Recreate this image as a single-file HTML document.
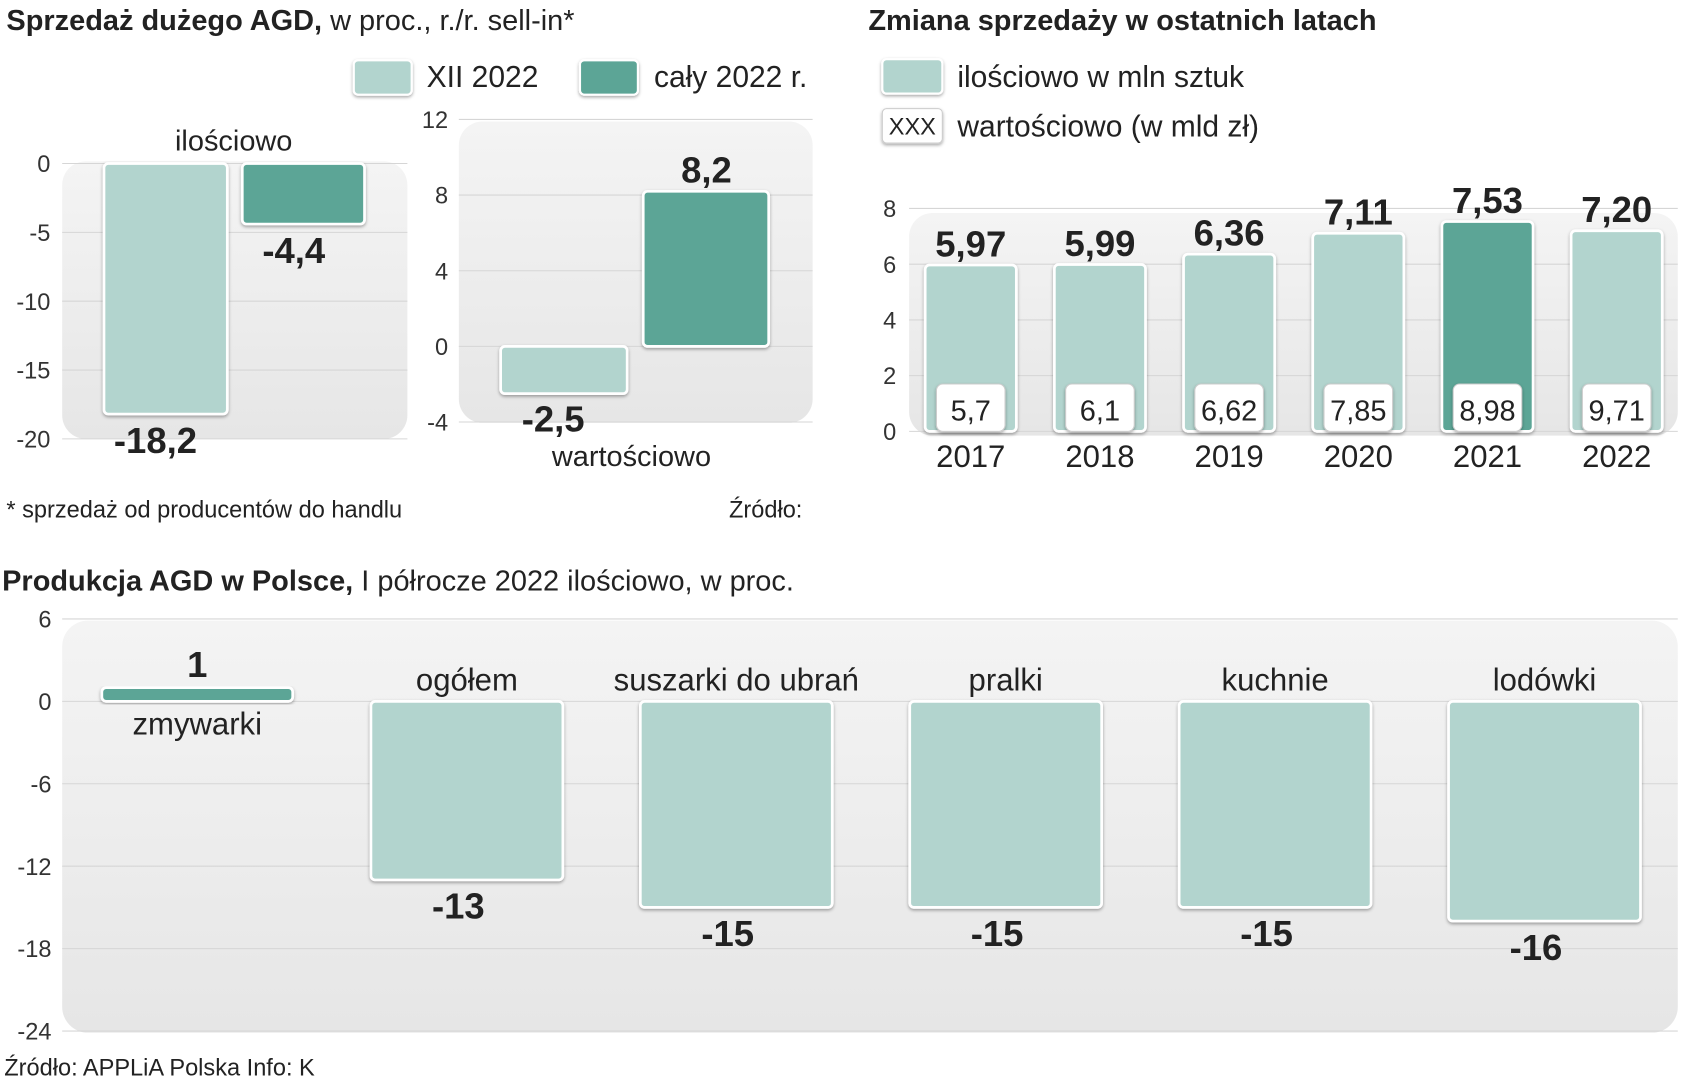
<!DOCTYPE html>
<html><head><meta charset="utf-8">
<style>
html,body{margin:0;padding:0;background:#fff;}
svg{display:block;font-family:"Liberation Sans Narrow","Liberation Sans",sans-serif;}
.t{fill:#222;}
.b{font-weight:bold;}
</style></head>
<body>
<svg id="root" width="1681" height="1080" viewBox="0 0 1568 1004" preserveAspectRatio="none" xmlns="http://www.w3.org/2000/svg">
<defs>
<linearGradient id="bg" x1="0" y1="0" x2="0" y2="1"><stop offset="0" stop-color="#f4f4f4"/><stop offset="1" stop-color="#e6e6e6"/></linearGradient>
<filter id="sh" x="-10%" y="-10%" width="120%" height="130%"><feDropShadow dx="0" dy="1.5" stdDeviation="1.5" flood-color="#000" flood-opacity="0.35"/></filter>
</defs>
<!-- titles -->
<text x="6" y="28" font-size="27" class="t"><tspan class="b">Sprzedaż dużego AGD,</tspan> w proc., r./r. sell-in*</text>
<text x="810" y="28" font-size="27" class="t b">Zmiana sprzedaży w ostatnich latach</text>
<text x="2" y="549" font-size="27" class="t"><tspan class="b">Produkcja AGD w Polsce,</tspan>  I półrocze 2022 ilościowo, w proc.</text>
<!-- legends -->
<g><rect x="330" y="56" width="54" height="32" rx="4" fill="#b2d4ce" stroke="#fff" stroke-width="2" filter="url(#sh)"/><text x="398" y="81" font-size="28" class="t">XII 2022</text></g>
<g><rect x="541" y="56" width="54" height="32" rx="4" fill="#5ba596" stroke="#fff" stroke-width="2" filter="url(#sh)"/><text x="610" y="81" font-size="28" class="t">cały 2022 r.</text></g>
<g><rect x="823" y="55" width="56" height="32" rx="4" fill="#b2d4ce" stroke="#fff" stroke-width="2" filter="url(#sh)"/><text x="893" y="81" font-size="28" class="t">ilościowo w mln sztuk</text></g>
<g><rect x="823" y="101" width="56" height="32" rx="4" fill="#fff" stroke="#ccc" stroke-width="1" filter="url(#sh)"/><text x="851" y="125" font-size="22" text-anchor="middle" class="t">XXX</text><text x="893" y="127" font-size="28" class="t">wartościowo (w mld zł)</text></g>
<!-- panels -->
<rect x="58" y="150" width="322" height="258" rx="22" fill="url(#bg)"/>
<rect x="428" y="113" width="330" height="280" rx="22" fill="url(#bg)"/>
<rect x="848" y="198" width="717" height="207" rx="22" fill="url(#bg)"/>
<rect x="58" y="577" width="1507" height="383" rx="24" fill="url(#bg)"/>
<g id="c1"></g><g id="c2"></g><g id="c3"></g><g id="c4"></g>
<text x="218" y="140" font-size="27" text-anchor="middle" class="t">ilościowo</text>
<text x="589" y="433" font-size="27" text-anchor="middle" class="t">wartościowo</text>
<text x="6" y="481" font-size="22" class="t">* sprzedaż od producentów do handlu</text>
<text x="680" y="481" font-size="22" class="t">Źródło:</text>
<text x="4" y="1000" font-size="22" class="t">Źródło: APPLiA Polska  Info: K</text>
</svg>
<script>
// Chart 1: ilościowo
const c1Series = ["XII 2022","cały 2022 r."];
const c1Values = [-18.2,-4.4];
const c1Labels = ["-18,2","-4,4"];
const c1Ticks = [0,-5,-10,-15,-20];
// Chart 2: wartościowo
const c2Values = [-2.5,8.2];
const c2Labels = ["-2,5","8,2"];
const c2Ticks = [12,8,4,0,-4];
// Chart 3: years
const years = ["2017","2018","2019","2020","2021","2022"];
const qtyValues = [5.97,5.99,6.36,7.11,7.53,7.20];
const qtyLabels = ["5,97","5,99","6,36","7,11","7,53","7,20"];
const valLabels = ["5,7","6,1","6,62","7,85","8,98","9,71"];
const c3Ticks = [8,6,4,2,0];
// Chart 4: production
const prodCats = ["zmywarki","ogółem","suszarki do ubrań","pralki","kuchnie","lodówki"];
const prodValues = [1,-13,-15,-15,-15,-16];
const prodLabels = ["1","-13","-15","-15","-15","-16"];
const c4Ticks = [6,0,-6,-12,-18,-24];

const NS="http://www.w3.org/2000/svg";
function mk(parent,tag,attrs,txt){const e=document.createElementNS(NS,tag);for(const k in attrs)e.setAttribute(k,attrs[k]);if(txt!==undefined)e.textContent=txt;parent.appendChild(e);return e;}
const LIGHT="#b2d4ce",DARK="#5ba596";
function bar(g,x,w,y0,y1,fill,name){
  const r=mk(g,'rect',{x:x,y:Math.min(y0,y1),width:w,height:Math.max(Math.abs(y1-y0),2),rx:4,fill:fill,stroke:'#fff','stroke-width':2.5,filter:'url(#sh)'});
  
  
  return r;
}
function grid(g,ticks,yf,x1,x2,lx,anchor,fs,pref){
  ticks.forEach(t=>{
    const y=yf(t);
    const l=mk(g,'line',{x1:x1,x2:x2,y1:y,y2:y,stroke:'#d6d6d6','stroke-width':1});
    
    
    const tx=mk(g,'text',{x:lx,y:y+8,'font-size':fs,'text-anchor':anchor,fill:'#333'},String(t));
    
    
  });
}
// chart 1
(function(){
  const g=document.getElementById('c1');
  const y=v=>152-v*12.8;
  grid(g,c1Ticks,y,58,380,47,'end',22,'c1');
  const xs=[97,226],w=[115,114];
  c1Values.forEach((v,i)=>{
    bar(g,xs[i],w[i],y(0),y(v),i?DARK:LIGHT,'bar-ilosciowo-'+i);
    const cx=xs[i]+(i?48:48);
    const t=mk(g,'text',{x:cx,y:y(v)+36,'font-size':34,'font-weight':'bold','text-anchor':'middle',fill:'#222'},c1Labels[i]);
    
    
  });
})();
// chart 2
(function(){
  const g=document.getElementById('c2');
  const y=v=>322-v*17.58;
  grid(g,c2Ticks,y,428,758,418,'end',22,'c2');
  const xs=[467,600],w=[118,117];
  c2Values.forEach((v,i)=>{
    bar(g,xs[i],w[i],y(0),y(v),i?DARK:LIGHT,'bar-wartosciowo-'+i);
    const ly=v<0?y(v)+35:y(v)-8;
    const lx=v<0?516:659;
    const t=mk(g,'text',{x:lx,y:ly,'font-size':34,'font-weight':'bold','text-anchor':'middle',fill:'#222'},c2Labels[i]);
    
    
  });
})();
// chart 3
(function(){
  const g=document.getElementById('c3');
  const y=v=>401-v*25.9;
  grid(g,c3Ticks,y,848,1565,836,'end',22,'c3');
  years.forEach((yr,i)=>{
    const x=863+i*120.5,w=85,cx=x+w/2;
    bar(g,x,w,y(0),y(qtyValues[i]),yr==="2021"?DARK:LIGHT,'bar-year-'+yr);
    const b=mk(g,'rect',{x:cx-32,y:357,width:64,height:44,rx:6,fill:'#fff',stroke:'#ccc','stroke-width':1,filter:'url(#sh)'});
    
    
    const vt=mk(g,'text',{x:cx,y:391,'font-size':27,'text-anchor':'middle',fill:'#222'},valLabels[i]);
    
    
    const qt=mk(g,'text',{x:cx,y:y(qtyValues[i])-8,'font-size':34,'font-weight':'bold','text-anchor':'middle',fill:'#222'},qtyLabels[i]);
    
    
    const yt=mk(g,'text',{x:cx,y:434,'font-size':29,'text-anchor':'middle',fill:'#222'},yr);
    
    
  });
})();
// chart 4
(function(){
  const g=document.getElementById('c4');
  const y=v=>652-v*12.77;
  grid(g,c4Ticks,y,58,1565,48,'end',22,'c4');
  prodCats.forEach((c,i)=>{
    const v=prodValues[i];
    const x=i===0?95:346+(i-1)*251.3,w=i===0?178:179,cx=x+w/2;
    bar(g,x,w,y(0),y(v),v>0?DARK:LIGHT,'bar-'+i);
    let cy,vy;
    if(v>0){cy=y(0)+31;vy=y(v)-10;}else{cy=y(0)-10;vy=y(v)+36;}
    const ct=mk(g,'text',{x:cx,y:cy,'font-size':29,'text-anchor':'middle',fill:'#222'},c);
    
    
    const vt=mk(g,'text',{x:cx-8*(v<0),y:vy,'font-size':34,'font-weight':'bold','text-anchor':'middle',fill:'#222'},prodLabels[i]);
    
    
  });
})();
</script>
</body></html>
